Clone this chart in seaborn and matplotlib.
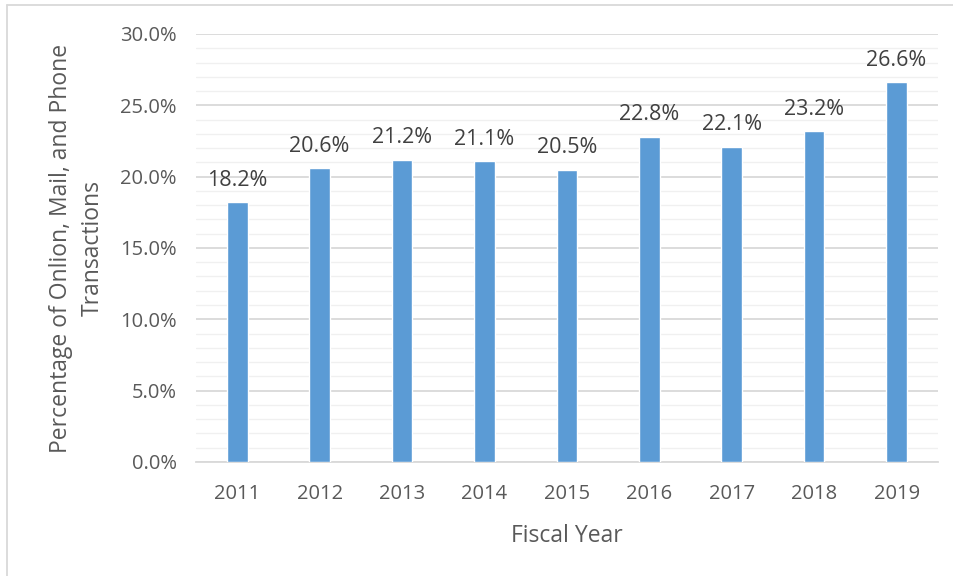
import matplotlib
matplotlib.use("Agg")
import matplotlib.pyplot as plt
from matplotlib.lines import Line2D
from matplotlib.ticker import MultipleLocator, FuncFormatter
import seaborn as sns
import pandas as pd

years = ["2011", "2012", "2013", "2014", "2015", "2016", "2017", "2018", "2019"]
shares = [18.2, 20.6, 21.2, 21.1, 20.5, 22.8, 22.1, 23.2, 26.6]

df = pd.DataFrame({"year": years, "share": shares})

sns.set_theme(style="white")
plt.rcParams["font.family"] = ["Open Sans", "DejaVu Sans"]

fig = plt.figure(figsize=(9.54, 5.76), dpi=100)
ax = fig.add_axes([0.2055, 0.198, 0.7775, 0.743])

sns.barplot(data=df, x="year", y="share", color="#5B9BD5", width=0.25,
            saturation=1, ax=ax, zorder=3)

ax.set_ylim(0, 30)
ax.set_xlim(-0.5, len(years) - 0.5)
ax.yaxis.set_major_locator(MultipleLocator(5))
ax.yaxis.set_minor_locator(MultipleLocator(1))
ax.yaxis.set_major_formatter(FuncFormatter(lambda v, _: f"{v:.1f}%"))
ax.grid(axis="y", which="major", color="#D9D9D9", linewidth=1.3, zorder=0)
ax.grid(axis="y", which="minor", color="#F0F0F0", linewidth=1.0, zorder=0)
ax.set_axisbelow(True)

for side in ["top", "right", "left"]:
    ax.spines[side].set_visible(False)
ax.spines["bottom"].set_color("#D9D9D9")
ax.spines["bottom"].set_linewidth(1.3)

ax.tick_params(axis="both", which="both", length=0, labelsize=14.5,
               labelcolor="#595959")
ax.tick_params(axis="x", pad=16)
ax.tick_params(axis="y", pad=14)

for i, v in enumerate(shares):
    ax.text(i, v + 0.8, f"{v:.1f}%", ha="center", va="bottom",
            fontsize=15.5, color="#404040")

ax.set_xlabel("Fiscal Year", fontsize=16.5, color="#595959", labelpad=14)
ax.set_ylabel("Percentage of Onlion, Mail, and Phone\nTransactions",
              fontsize=16.5, color="#595959", labelpad=11, linespacing=1.4)

# thin frame along the top and left edges of the canvas
fig.add_artist(Line2D([0.007, 1.0], [0.992, 0.992], color="#D9D9D9",
                      linewidth=1.3, transform=fig.transFigure))
fig.add_artist(Line2D([0.007, 0.007], [0.0, 0.992], color="#D9D9D9",
                      linewidth=1.3, transform=fig.transFigure))

fig.savefig("out.png", dpi=100)
